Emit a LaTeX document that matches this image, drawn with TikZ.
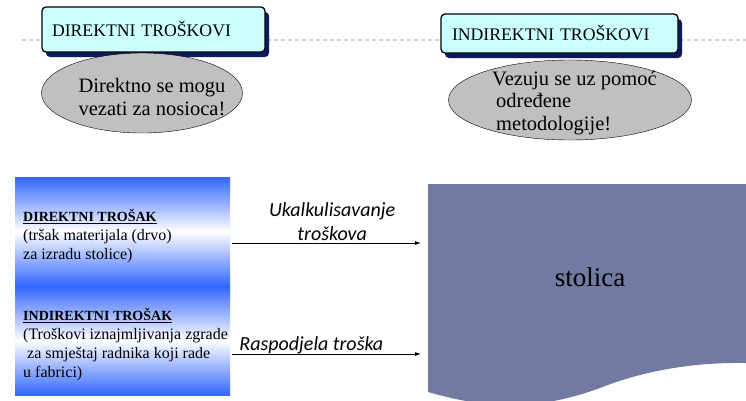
\documentclass[tikz,border=0pt]{standalone}
\usepackage{fontspec}
\setmainfont{Liberation Serif}
\newfontfamily\arrowfont{Carlito}
\usetikzlibrary{shapes.geometric,shadows,arrows.meta}
\definecolor{boxcyan}{HTML}{CCFFFF}
\definecolor{shadownavy}{HTML}{0B1A5C}
\definecolor{ellgray}{HTML}{C0C0C0}
\definecolor{dashblue}{HTML}{C5D3E3}
\definecolor{gradblue}{HTML}{3366FF}
\definecolor{docblue}{HTML}{717AA0}
\tikzset{
  titlebox/.style={draw=black,line width=1.3pt,rounded corners=4pt,fill=boxcyan,
    drop shadow={shadow xshift=4pt,shadow yshift=-5pt,fill=shadownavy,opacity=1},
    align=left,font=\fontsize{17.7}{20}\selectfont},
  noteell/.style={ellipse,draw=black,fill=ellgray,inner sep=0pt},
  notetext/.style={inner sep=0pt,font=\fontsize{20.5}{22.5}\selectfont},
  costtext/.style={inner sep=0pt,anchor=north west,align=left,font=\fontsize{16}{19}\selectfont},
  flow/.style={-{Latex[length=6pt,width=4pt]},line width=0.8pt},
  arrlbl/.style={inner sep=0pt,font=\arrowfont\itshape\fontsize{20}{24}\selectfont}
}
\newcommand{\costhead}[1]{{\fontsize{14}{19}\selectfont\underline{\textbf{#1}}}}
\begin{document}
\begin{tikzpicture}[x=1pt,y=-1pt]
  \useasboundingbox (0,0) rectangle (746,400);
  % separator
  \draw[dashblue,line width=1.3pt,dash pattern=on 4pt off 3pt] (22,40) -- (746,40);
  % top row
  \node[titlebox,inner xsep=10pt,text width=203pt,minimum height=45pt] (dirBox) at (153.5,29.5) {DIREKTNI TROŠKOVI};
  \node[noteell,minimum width=201pt,minimum height=80pt] (dirEll) at (142,93) {};
  \node[notetext,align=center] (dirTxt) at (152,97) {Direktno se mogu\\vezati za nosioca!};
  \node[titlebox,inner xsep=11pt,text width=215pt,minimum height=39pt] (indBox) at (559.5,33.5) {INDIREKTNI TROŠKOVI};
  \node[noteell,minimum width=243pt,minimum height=80pt] (indEll) at (570,100) {};
  \node[notetext,anchor=north west,align=left] (indTxt) at (492,71) {Vezuju se uz pomoć\\\hspace{4pt}određene\\\hspace{4pt}metodologije!};
  % cost box
  \def\gx{15}
  \def\gw{215}
  \shade[top color=gradblue,bottom color=gradblue,middle color=white] (\gx,177) rectangle (\gx+\gw,286);
  \shade[top color=gradblue,bottom color=gradblue,middle color=white] (\gx,286) rectangle (\gx+\gw,395);
  \node[costtext] (dirCost) at (23,209) {\costhead{DIREKTNI TROŠAK}\\(tršak materijala (drvo)\\za izradu stolice)};
  \node[costtext] (indCost) at (23,308) {\costhead{INDIREKTNI TROŠAK}\\(Troškovi iznajmljivanja zgrade\\\ za smještaj radnika koji rade\\u fabrici)};
  % stolica
  \fill[docblue] (428,184) -- (746,184) -- (746,363)
    .. controls (690,362) and (640,372) .. (600,388)
    .. controls (540,410) and (490,410) .. (428,392) -- cycle;
  \node[font=\fontsize{27}{30}\selectfont] (stol) at (590,277) {stolica};
  % connectors
  \coordinate (costA) at (232,243);
  \coordinate (costB) at (232,354);
  \coordinate (stolA) at (421,243);
  \coordinate (stolB) at (421,354);
  \draw[flow] (costA) -- node[arrlbl,pos=.53,above=2pt,align=center] (lblA) {Ukalkulisavanje\\troškova} (stolA);
  \draw[flow] (costB) -- node[arrlbl,pos=.42,above=0pt] (lblB) {Raspodjela troška} (stolB);
\end{tikzpicture}
\end{document}
